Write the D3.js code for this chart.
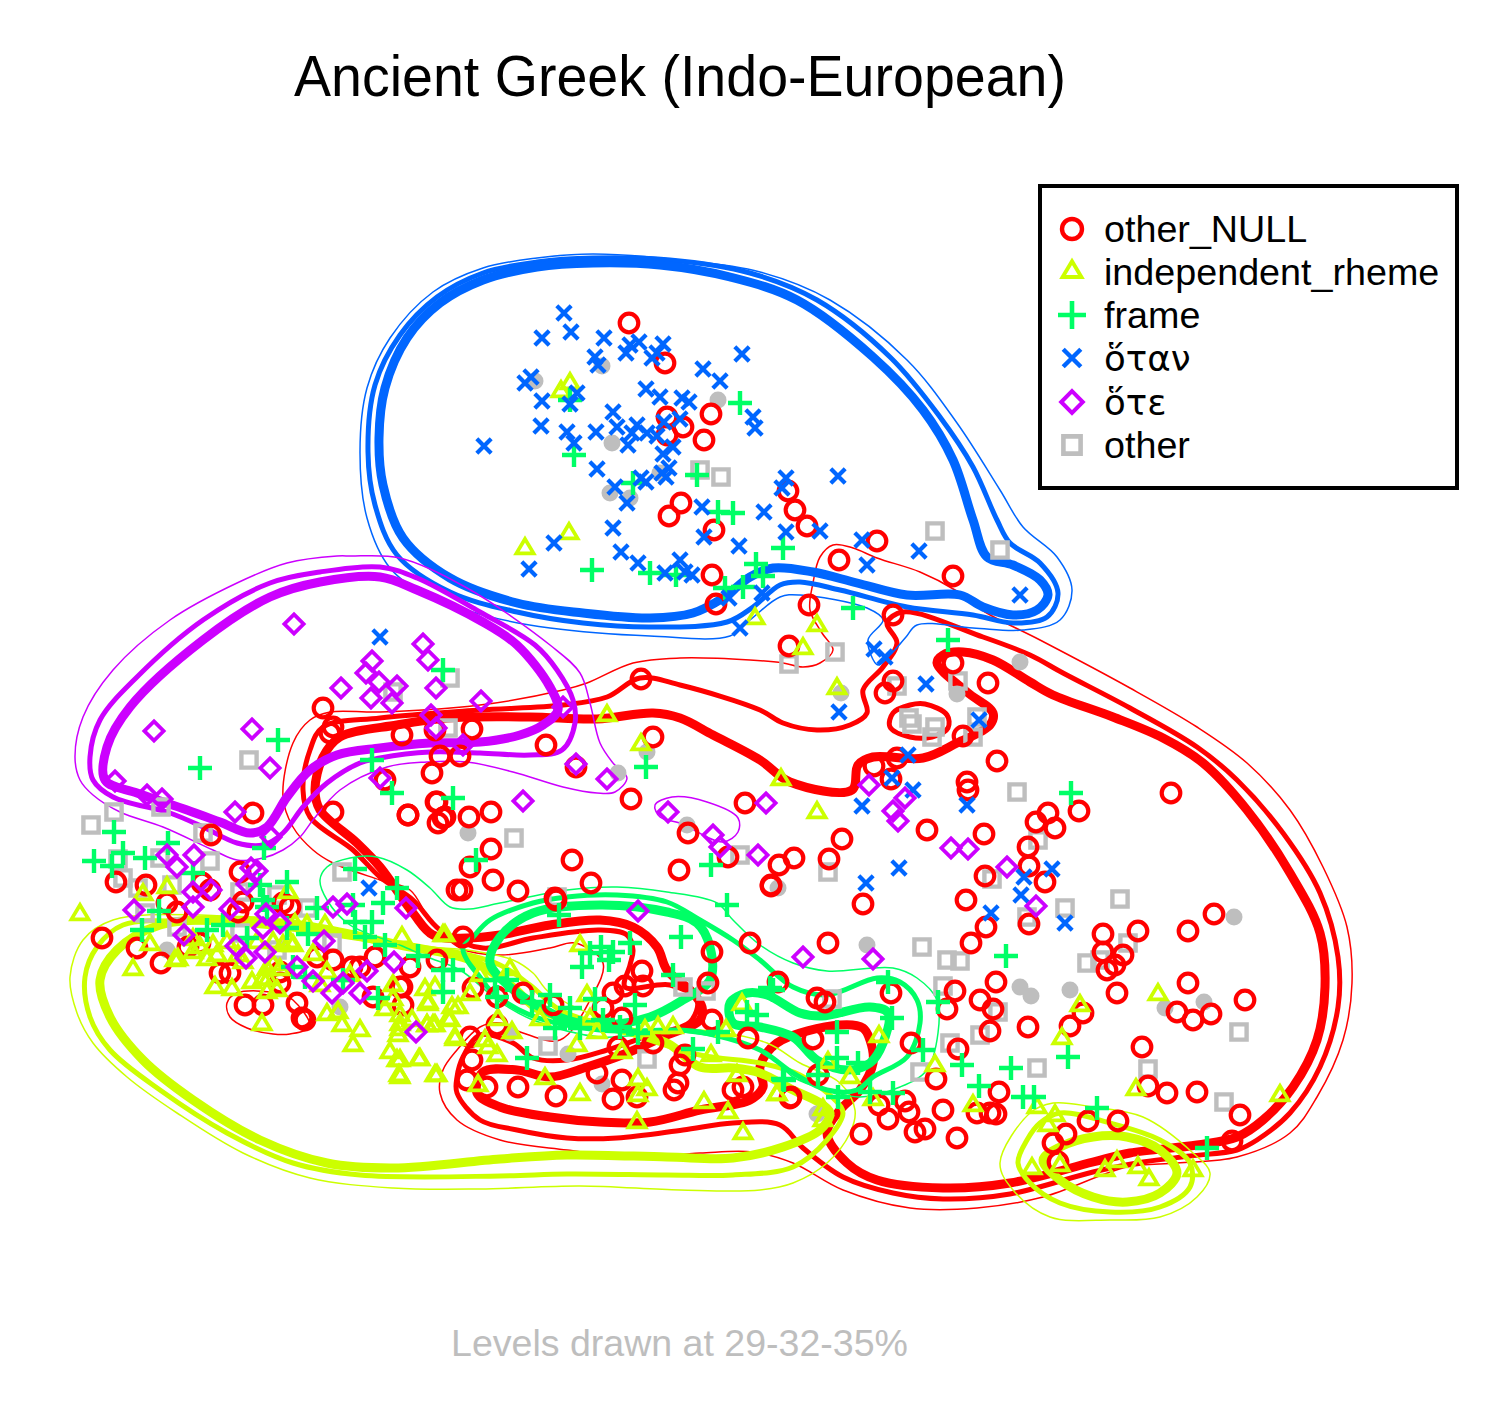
<!DOCTYPE html>
<html><head><meta charset="utf-8">
<script src="https://cdnjs.cloudflare.com/ajax/libs/d3/7.8.5/d3.min.js"></script>
<style>html,body{margin:0;padding:0;background:#fff}svg{display:block}</style>
</head><body><svg id="c" width="1504" height="1406"></svg>
<script>
const titleText="Ancient Greek (Indo-European)";
const footText="Levels drawn at 29-32-35%";
const legendNames=["other_NULL","independent_rheme","frame","ὅταν","ὅτε","other"];

const otherNull=[[62.9,32.3],[66.5,36.3],[71.1,41.4],[66.7,41.7],[68.3,42.7],[66.7,43.5],[70.4,44],[78.8,49.1],[79.5,51],[80.7,52.6],[68.1,50.3],[66.9,51.6],[71.4,53],[87.7,54.1],[83.9,56],[95.3,57.6],[71.2,57.5],[71.6,60.4],[80.9,60.5],[78.9,64.6],[89.3,61.5],[95.3,66.3],[98.8,68.3],[89.3,68.1],[88.5,69.3],[96.3,73.6],[99.7,76.1],[89.7,75.8],[87.4,76.6],[89.1,77.9],[96.7,78.2],[96.8,79],[107.9,81.1],[104.8,81.3],[103.6,82.2],[105.5,82.8],[92.7,83],[98.4,83.4],[102.8,84.7],[102.9,86.6],[98.5,87.6],[104.5,88.2],[96.6,90],[84.2,83.9],[82.9,85.9],[79.4,85.8],[77.9,86.5],[77.1,88.6],[86.3,90.4],[117.1,79.3],[74.5,80.3],[63.1,79.9],[65.3,73.7],[64.1,67.9],
[98.6,92.7],[97.1,94.3],[102.9,92.4],[82.8,94.3],[110.3,93.4],[113.8,93.1],[118.8,93.1],[121.4,91.4],[110.3,95.2],[112.3,95.5],[111.5,96.5],[110.7,97],[111.7,99.3],[118.8,98.3],[117.7,101.2],[119.3,102],[121.1,101.4],[124.5,100],[99.6,98.2],[95.5,99.1],[98,100],[99.3,100.9],[94.7,100.9],[89.1,99.3],[77.8,98.2],[81.7,99.8],[82.5,100.2],[99,103.1],[102.8,102.7],[108.3,101.3],[107,102.6],[114.2,104.7],[95.8,104.9],[91.1,104.3],[81.3,103.9],[93.6,107.9],[114.8,108.6],[116.7,109.3],[119.7,109.2],[124,111.5],[123.2,114.1],[111.8,112.1],[108.8,112.1],[106.6,113.4],[105.3,114.3],[105.8,116.2],[99.9,109.2],[99.6,111.4],[99,111.3],[97.7,111.3],[94.3,111],[95.7,113.8],[91.5,113.2],[92.5,112.9],[90.9,111.2],[90.5,110.1],[88.8,111.9],[87.9,110.5],[86.1,113.4],[79.1,109.7],[81.8,107.5],
[45.7,89],[46.2,89],[51.8,89.1],[49.3,88],[59.1,88.3],[55.6,90],[77.1,88.5],[46.3,93.7],[71.2,95.2],[75,94.3],[70.8,98.3],[64.2,97.1],[64.3,98.6],[62.5,98.6],[61.3,99.3],[60.3,100.8],[41,96.7],[43.7,96],[47.3,98.8],[49.7,99.7],[52.3,99.3],[55.3,100.5],[40.2,98.7],[40.3,100.5],[47,103.7],[49.7,102.5],[47.2,106],[46.7,108],[48.7,108.7],[51.8,108.7],[55.6,109.6],[59.7,107.3],[62.2,108],[61.3,109.9],[63.7,109.7],[61.8,104.7],[65.3,104.3],[62.2,101.8],[71.2,102],[74.8,103.8],[68.5,105.5],[68,106.5],[67.8,108.3],[67.4,109],[73.3,109],[74.3,108.7],[79,109.8],
[10.2,93.8],[11.6,88.2],[14.6,88.5],[21.1,83.5],[25.3,81.3],[40.8,81.5],[33.3,81.2],[43.7,80.2],[44.3,81.8],[43.8,82.3],[24,87.2],[16.7,90.3],[17.7,91.2],[13.7,94.8],[16.1,96.3],[21,89],[20.2,88.3],[29,90.7],[28.3,90.3],[24.3,90.2],[23.8,91.2],[20,94.3],[18.8,94.7],[23,97.3],[28,98.3],[24.5,100.5],[26.3,100.5],[29.7,100.3],[30.5,102],[30.2,101.8],[37.3,99.7],[40,98.7],[37.5,95.7],[36,96.7],[35.2,96.7],[33.3,96],[31.7,95.7],[28,97.2],[22,97.3],
[32.3,70.8],[33.3,72.7],[33,73.3],[40.2,73.5],[43.5,73],[47.2,72.9],[44,75.6],[46,75.6],[43.2,77.3],[38.5,78],[54.6,74.5],[57.6,76.7],[40.8,81.5],[43.6,80.2],[44.5,81.7],[46.9,81.7],[49.1,81.2],[49.1,84.9],[47,86.7],[57.2,86],[68.8,83.3],[72.8,85.7],[67.9,87],[55.5,89.8]];

const indepRheme=[[56.1,38.9],[57,38.1],[52.5,54.6],[56.9,53.1],[75.5,61.6],[81.7,62.3],[80.3,64.6],[83.7,68.6],[60.7,71.3],[64.1,74.2],[78.1,77.7],[81.7,81],
[87.9,103.4],[93.5,106.3],[85,107.5],[82.8,106],[87.3,109.7],[97.3,110.3],[77.7,109.2],[82.3,110.7],[82.3,111.8],[108,100.3],[106.2,103.6],[115.8,99.2],[113.6,108.7],[103.7,110.5],[105.5,111.3],[104.8,112.3],[103.2,116.6],[106,116.3],[110.5,116.8],[111.7,115.9],[113.8,116.5],[114.9,117.7],[119.3,116.8],[128,109.3],
[44.5,93.3],[58,94.3],[58.7,99.3],[54,101.7],[49.8,101.7],[51.2,103],[45.5,103.5],[48.5,103.8],[48.8,104.5],[49.7,105.3],[42,105.7],[40,105.8],[43.7,107.3],[40,107.5],[47.8,108.3],[54.5,107.6],[58,109.2],[63.8,107.7],[64.7,108.7],[63.8,109.3],[63.7,112],[70.4,110],[72.8,111],[74.3,113.1],[73.7,107.3],[71.1,105.3],[77.7,109.2],[74.2,100.2],[72.6,102.8],[67.3,102.5],[65.8,102.5],[64.5,102.8],[62.2,105],[57.7,104.3],[59,101.7],[59.7,103],[42.5,98.7],[43.5,98.5],[42.8,100.2],[47,99.2],[48,97.3],[51,96.7],[45.8,100.5],[45.2,100.5],[45,101.8],[42.7,102.3],[43.3,102.3],[41.2,101.8],[40,101.3],[40,102.7],
[8,91.2],[14.3,89.2],[16.7,88.5],[15,94.2],[13.3,96.7],[17.5,95.8],[28.8,89],[44.3,93.3],[40.2,93.5],[32.5,92.3],[30.7,92.3],[29.5,92.2],[29.3,94.3],[20,94.5],[21.3,94.3],[20.7,95.7],[22.7,94],[25.7,94],[27.3,94],[31.3,95.2],[21.5,98.5],[23.2,98.7],[25.2,98],[26.3,97.7],[27.7,98.8],[26.8,97.7],[28,96.7],[32,98.3],[32.7,97],[32.7,101.2],[34.2,102.3],[33.8,101],[36,102.8],[35.3,104.3],[35,97.3],[26.2,102.2],[38.5,100.7],[39.3,99.7],[39.3,98.3],[42.8,100],[40,102.2],[39.8,103.3],[42.7,102.3],[43.5,102.3],[39,105],[39.7,105.8],[41.9,105.7],[39.9,107.3],[43.5,107.3],[44.8,101.7],[45.5,103.7],[26.7,99],[23.8,95.3],[21.7,95.3],[19.3,95],[24.3,96],[27.3,96.2],[26.7,96.7],[29,94],[28.3,94.3],[19.3,93.7],[17.8,95.7]];

const frame=[[57,40],[74,40.3],[57.4,45.5],[63.3,48.3],[69.7,47.5],[71.8,51.2],[73.3,51.3],[78.3,54.8],[59.2,57],[65,57.3],[67.6,57.5],[75.6,56.4],[76.3,57.6],[74.3,58.7],[72.5,58.8],[85.3,60.8],[94.8,64],[107.1,79.3],[44.3,67],[27.8,74],[20,76.8],[37.2,76],[39.2,79.3],[45.3,79.8],[64.6,76.7],[71.1,86.5],[47.6,86],
[11.4,83.2],[16.8,84.3],[12.3,85.3],[9.4,86.1],[11.2,86.6],[14.5,85.8],[26.4,84.8],[19.3,87.3],[26,88.5],[28.7,88.2],[35.5,86.9],[39.7,88.8],[38.3,90.3],[31.7,90.8],[35.3,90.5],[35.5,92.2],[37.2,92.2],[36.5,93.7],[38.5,94.5],[41.8,95.6],[44.3,97],[45.3,97],[44.3,99.2],[37.8,99.8],[30.8,93.4],[28.7,92.8],[22.3,92.5],[20.7,93],[14.2,93],[15.9,91.1],[26.7,90.7],[26.3,90],[24.7,93.8],[29.3,96.7],[30.5,97.7],[34.3,98],
[55.9,91.5],[72.7,90.5],[68.1,93.7],[67.3,97.5],[58.2,96.7],[59,95.3],[60.1,94.7],[61.3,95.2],[63,94.3],[60.9,96],[49.5,98],[50.7,98],[49.7,99.7],[53.2,100.2],[55,99.5],[57,100.8],[59.5,99.9],[55.5,102.8],[52.7,105.8],[58,102.8],[60.3,102],[62,102.7],[63.5,100.5],[63.8,103.3],[71.8,103.2],[74.7,101.2],[75.7,101.5],[69.3,104.9],[78.3,107.9],[77.3,99],
[77,98.8],[88.8,98.2],[93.8,100.2],[89.2,101.8],[83.7,103.2],[83.7,105.8],[85.8,106.3],[81.8,107.5],[78.4,108],[83.8,109.7],[87,109.2],[89.3,109.3],[92.3,105],[96.2,106.5],[101.1,106.8],[106.8,105.7],[100.6,95.6],[97.9,108.6],[102.3,109.7],[103.4,109.7],[109.7,110.8],[120.7,114.8]];

const hote=[[56.4,31.3],[57.1,33.2],[54.2,33.8],[60.4,33.8],[59.5,35.7],[59.8,36.5],[63.9,34.2],[63,34.5],[62.6,35.3],[66.3,34.4],[65.7,35.3],[65.2,35.8],[70.3,36.9],[72,38.1],[74.2,35.4],[53.1,37.7],[52.5,38.3],[54.2,40.1],[57,40.4],[57.7,39.3],[54.1,42.6],[56.7,43.2],[57.4,44.3],[59.6,43.2],[61.3,41.2],[61.7,42.7],[63.7,42.5],[63.2,43.3],[62.8,44.5],[64.7,43.3],[65.7,43.6],[66.4,42.2],[68,41.9],[64.6,38.9],[66,39.7],[68.2,39.8],[68.9,40.2],[75.3,41.7],[75.5,42.8],[67.3,44.7],[66.3,45.4],[66.9,46.8],[66.6,47.7],[66.2,47.3],[59.7,46.9],[61.5,48.7],[64.1,47.8],[64.6,48.2],[62.7,50.3],[48.4,44.6],[70.2,50.7],[76.4,51.2],[83.8,47.6],[78.6,47.8],[78.2,48.8],[82,53.1],[78.6,53.2],[70.4,53.7],[73.9,54.6],[61.3,52.8],[55.4,54.3],[52.9,56.9],[62.1,55.2],[63.8,56.3],[68,56],[66.5,57.3],[68.5,57.2],[69.2,57.5],[76.2,59.3],[72.9,59.8],[74,62.8],[86.2,54],[86.7,56.5],[91.9,55.1],[102,59.5],
[87.4,64.9],[88.5,65.7],[92.6,68.4],[83.9,71.2],[97.9,72],[90.8,75.5],[89.2,77.8],[91.3,79],[86.2,80.6],[96.7,80.5],[89.9,86.8],[86.6,88.3],[102.4,87.7],[105.2,86.9],[102.1,89.5],[99.1,91.3],[106.5,92.3],[38,63.7],[36.9,88.8]];

const ote=[[29.4,62.4],[42.3,64.4],[42.8,66],[37.2,66.1],[36.6,67.3],[37.9,68.2],[39.7,68.6],[37.1,69.8],[39.2,70.3],[34.1,68.8],[43.6,68.8],[48.1,70.1],[43.1,71.5],[43.6,72.8],[15.4,73.1],[25.2,72.9],[27,76.8],[11.5,78.1],[14.7,79.5],[16.2,79.9],[23.5,81.2],[27.1,83.7],[57.6,76.4],[60.7,77.9],[38,77.8],[52.3,80.1],[66.8,81.2],[71.3,83.5],[72,84.7],[75.8,85.5],[76.6,80.3],[86.9,78.5],[90.5,79.8],[89.3,81.1],[89.8,82.1],[95.1,84.8],[96.8,84.9],[100.7,86.7],[103.6,90.6],[63.8,91.1],[80.3,95.7],[87.3,95.9],[56.3,70.7],[46.3,74.5],
[16.7,85.5],[17.7,86.7],[19.4,85.5],[25.1,86.8],[25.7,87.1],[24.7,88.4],[19.3,89.2],[21.1,89],[19.3,90.7],[23,90.9],[13.4,91],[26.6,91.4],[28,92.3],[26.3,92.8],[18.4,93.5],[23.6,94.6],[24.6,95.8],[26.5,95.2],[32.4,94.1],[29.7,96.7],[31.3,98.1],[33.2,99.3],[34.3,98.3],[36,99.3],[36.7,97.1],[39.4,96.2],[33.3,90.7],[34.7,90.4],[40.6,90.8],[41.6,103.2]];

const otherSquares=[[70,47],[72.1,47.7],[93.5,53.1],[100,55],[83.5,65.2],[78.9,66.4],[89.7,68.6],[95.8,68.1],[97.7,71.7],[97.3,73.7],[90.9,71.8],[91.2,72.4],[93.5,72.7],[93.2,73.7],[101.7,79.2],[82.8,87.2],[99.2,87.9],[103.8,84],[106.5,90.8],[102.7,91.7],[112,89.9],[44.8,72.8],[45,67.8],[39.3,69.2],[51.4,83.8],[34.2,87.2],[74,85.5],[55.7,89.7],[24.9,76],[11.4,81.2],[9.1,82.5],[16.1,80.7],[20.3,83.3],[21,86.1],[11.8,85.9],[12.3,87.8],[13.8,88.8],[16,85.8],[17.2,88.5],[24,89.2],[27.7,89.5],[30.8,90.8],[33.2,94.3],[14.5,91.3],[17.7,92.7],[24,93.3],[27.7,95],[54.8,104.6],[64.7,105.9],[68.3,98.7],[70.6,99.1],[92.2,94.7],[94.7,96],[96,96.1],[94.3,98.6],[83.2,99.9],[99.8,101.2],[98,103.5],[95,104.3],[92,107.2],[103.7,106.8],[114.8,106.9],[122.4,110.2],[123.9,103.2],[108.7,96.3],[110,96],[112.8,94.3]];

const otherDots=[[53.5,38.1],[60.2,36.6],[61.2,44.3],[71.8,40],[66,47.3],[61,49.3],[63,49.8],[102,66.2],[95.7,69.4],[84.1,69.3],[77.8,88.8],[61.8,77.3],[64.7,75.2],[46.8,83.3],[68.7,82.5],[86.7,94.5],[102,98.7],[103.1,99.6],[107,99],[120.4,100.2],[116.5,100.8],[123.4,91.7],[81.7,111.4],[56.8,105.4],[60.2,108.4],[16.7,95],[34,100.7],[51,103.3]];

const blueThin=[[59.3,25.4],[53.7,25.8],[48.3,26.8],[43.3,29.2],[39,33.8],[36.7,38.8],[36,45.2],[36.7,51.8],[39,56.8],[42.7,59.5],[48.3,61.5],[55,62.8],[65,63.6],[73,63.6],[75,62],[78,59.7],[80,59.5],[86.7,60.8],[88.3,62],[86.8,64],[87.8,66.5],[89,65.5],[90.6,63.7],[91.7,62.5],[97.3,62.8],[102.3,63],[106,62],[107.2,59],[105.7,55.7],[102.3,52.7],[100,49],[95.7,42.3],[90.7,36],[83,30],[76,27.2],[68,26]];
const blueMid=[[59.3,25.8],[53.7,26.2],[48.3,27.3],[43.7,29.7],[40,33.5],[37.5,38.5],[36.8,45.2],[37.5,50.5],[39.7,55.5],[45,59.2],[51.7,61.2],[58.3,62.3],[65,62.7],[72.7,62.2],[75.3,60.7],[78,58.5],[80,58.2],[84,59],[90.7,60.7],[97.3,61.5],[101.3,62.3],[104.7,61.7],[105.8,59.3],[104,56.3],[101,54.3],[99.7,52],[97.3,46.7],[94,41.7],[89,35.7],[81.7,30],[75,27.3],[67,26]];
const blueThick=[[59.3,26.3],[53.7,26.7],[48.3,28],[44,30.3],[40.7,33.8],[38.5,38.8],[37.9,43.8],[38.3,48.5],[40.3,53.8],[45,57.8],[51.7,60.3],[58.3,61.3],[65,61.8],[69.3,61.3],[72.3,59.8],[75,57.7],[77.3,56.8],[81.3,57.2],[85.7,58.3],[90.7,59.5],[96,59.5],[98.3,60.7],[101.3,61.5],[103.7,61],[104.8,59.5],[104,58],[101.3,56.5],[98.7,55.7],[97.3,52],[95.3,46],[92.3,41],[87.3,35.7],[79.7,30],[73,27.7],[66,26.5]];

const oteThin=[[35,55.6],[40,55.8],[46.7,58.8],[55,64.5],[58,67.3],[59,70.3],[60,74.3],[61.3,76.3],[62.7,77.8],[61.5,79.2],[59.7,79.3],[56.3,78.7],[51.3,77.2],[46.7,76.2],[42.7,76.2],[38.7,76.7],[34,79],[31.3,82],[30,83.7],[28.3,85],[26.3,85.8],[23.7,86],[21.3,85],[16.3,82.7],[12,81.2],[9.3,79.5],[8,78],[7.5,75.7],[8.3,71.7],[11.3,67],[17,62],[23.7,58.3],[28.7,56.3],[33.7,55.6]];
const oteMid=[[38,56.7],[41.7,57.8],[48,61.2],[53.5,64.5],[55.7,67],[57.3,70],[57.5,72.3],[56.2,75],[53,75.5],[48,75.3],[43,75.2],[38,75.8],[36,76.3],[32.7,78.3],[30.3,80.7],[28.3,83.3],[26.3,84.5],[23.7,84.3],[20.3,82.7],[17,81.3],[11.3,79.7],[9.3,78],[9,75.7],[10,72],[13.7,67.7],[20.3,62],[27,58.3],[32,57.2]];
const oteThick=[[38,57.7],[41.7,59],[48.3,62.2],[51.7,64.5],[55,68.7],[55.8,71],[54.3,72.5],[52,73.5],[48,74.2],[43,74.3],[38,74.8],[33.7,75.5],[31,77],[28.7,79.7],[26.7,82.7],[25,83.3],[22,82.2],[18.7,81],[13.7,79.3],[10.5,78],[10.7,74.7],[13,70.7],[20.3,64],[27,59.7],[32,58.2]];
const oteIsland=[[65.5,80.5],[67.2,79.7],[70.7,80.2],[73.8,81.8],[73.8,83.2],[72.3,84.2],[68,82.3],[66,81.7]];

const redThin=[[81,61],[81.3,58.3],[82,55.7],[83.3,54.5],[85.3,54.8],[87.7,55.8],[92,57.2],[95.5,59],[98.5,61.2],[104,64],[113,68.8],[119.7,72.7],[124.7,76.3],[129,81],[132.3,86.7],[134.7,92.7],[135.2,98.3],[134.3,104],[131.7,109.7],[129,113.3],[123.7,115.7],[117.7,116.3],[112.7,116.7],[104.3,119.7],[97.7,120.8],[91,120.8],[84.3,119],[79.3,116.3],[75.3,115.2],[70,115.3],[63.3,115.7],[56.7,115],[50,114],[45.7,112],[44,109.3],[44.3,107],[45.7,105],[48,102.7],[50,102.3],[52.3,103.3],[56,104],[59,100],[60.3,96.3],[57.5,94.3],[55,94.8],[50,95.5],[46,94.8],[43,92],[41,89],[38,88],[33.3,86.3],[31.3,85],[29.3,82.7],[28.3,79.7],[29.3,74.3],[31,72],[33,71.2],[38,71.2],[48,70.5],[56.3,69],[58.7,68.3],[63.3,66.3],[68,65.8],[75,66],[78.3,66.3],[80.3,66.7],[82,66.3],[83.3,65],[82.2,63.3]];
const redMid=[[90.3,61.2],[98.3,63.7],[103,65.5],[106.3,67.3],[113,70.8],[119.7,74.7],[123.7,78],[128.3,83.3],[132,89.3],[133.8,95.7],[133.8,100.7],[132,106.7],[129,111.3],[125.7,114],[123.7,115],[119,115.6],[114.3,116.2],[109.3,117.2],[101,119.4],[94.3,119.9],[89.3,119.3],[84.3,117.7],[80.3,114.8],[78,112.5],[73.3,112.3],[68.3,113],[61.7,113.8],[56.7,113.8],[51.7,113],[48,112],[45.7,109.3],[45.7,107.7],[46.3,105.7],[48,103.5],[51.3,104.3],[53.3,105.8],[56.7,106],[60.7,105],[65,103.5],[69,102.2],[69.7,100],[67,98.5],[62.5,98.7],[63,96.5],[63.3,95],[62.7,93.5],[60,93],[53.3,93.8],[48.3,94.8],[44,93],[41.3,90],[38,87.7],[35.3,85],[31,81.7],[30.3,79],[31,75],[32.3,72.7],[38,71.8],[48,71],[56.3,70.5],[60.7,69.7],[64,67.8],[68,68.5],[76,71],[78.3,72.3],[81.7,73],[85,72.5],[86.7,71.3],[86.3,69],[88.3,66.7],[89.7,64.3],[88.7,62.3]];
const redThick=[[34,73.7],[39.7,72.5],[44.7,71.8],[53,71.7],[59.7,71.9],[65.3,71.3],[68,71.8],[71.3,73.5],[76,76],[79,78.2],[85.2,79],[85.8,76.5],[87.3,75.7],[92.3,75.8],[95.7,74.3],[99,72.5],[99.3,71.3],[96.7,69.2],[93.7,66.3],[94.3,65.5],[96.3,65.2],[99.3,66],[103,68.2],[105.3,69.5],[111.3,71.7],[116.3,73.8],[120.3,76.3],[124.7,81],[129,87.3],[132,93.3],[132.5,98.7],[131.7,104],[129.3,108.7],[126.3,112],[123.7,113.7],[119.7,114.5],[113,115.3],[109.3,116.2],[101,118.3],[94.3,118.8],[87.7,118],[84.7,116.3],[82.7,113.3],[84,111],[86,109],[87.3,106.3],[87,104],[86.3,102.8],[84,102.5],[77.7,104.3],[76,106.7],[76.3,108.7],[75,110],[70,111],[65,112.2],[60,112.2],[55,111.7],[50,110.7],[47.7,109.3],[48.3,107.2],[51.7,107],[55,107.7],[58.7,106.7],[62.7,105.3],[66.7,103.5],[70,102],[70.2,100.7],[69.3,99.3],[66.7,97],[65.7,94.7],[63.3,92.7],[60,92],[55,92.5],[50,93.5],[46.7,93.8],[43.3,93.5],[41.3,91.3],[38,86.7],[35.7,84.3],[32,81],[31.5,79],[32.3,75.7]];
const redIsland=[[89.3,71.3],[91,70.5],[92.5,70.4],[94.7,71.5],[94.8,72.8],[93.2,73.7],[91,73.7],[89,72.7]];
const redBlob=[[22.7,100.3],[23,101.7],[24.7,102.8],[27.3,103.4],[29,103.4],[31,102.7],[29.3,100],[27.7,99.3],[23.7,99.3]];

const limeThin=[[11.3,92],[8.3,94],[7,97.7],[7.7,101.3],[9.3,104.3],[12.7,107.7],[17.7,111.3],[24.3,115.3],[31,117.8],[39.3,118.8],[48,118.9],[58,118.6],[68,119],[76,119],[79.3,118.3],[82.7,116.3],[85,113.3],[85.5,111],[84,108.3],[80,106.3],[76.7,104.3],[70,103],[64,103],[55,99.3],[53.3,97.3],[51.3,96],[46.7,95],[40,94.5],[30,92.5],[20,91.5]];
const limeMid=[[12.3,92.5],[9.7,94.7],[8.5,97.7],[9,101.7],[11,105],[16,109],[22.7,113.3],[29.3,116.3],[36,117.5],[50,117.6],[56.7,117.4],[66.7,117.5],[73.3,117.5],[79.3,116.7],[82.7,114],[84.3,111.3],[83.5,110],[80,107.5],[76,106.3],[70,105.5],[62,103],[56,101],[53,98.5],[50,96.5],[46,95.3],[40,94.5],[30,93],[20,92.2]];
const limeThick=[[16,92.5],[11.7,95],[10,98],[11,101.7],[14.3,106],[19.3,110],[26,114],[32.7,116.3],[39.3,116.8],[50,115.9],[56.7,115.5],[66.7,115.7],[73.3,115.8],[78.3,114.7],[82,113],[83,111.3],[82,110.3],[79.3,109],[76,107.3],[73.3,106.8],[70,106.7],[66.7,104.3],[60,102.5],[54,101],[51,98.5],[47,96],[40,94.5],[30,92.5],[22,92]];
const limeEggThin=[[103,111.3],[100,116.3],[101.3,119],[105,121.7],[111,122],[116,121.7],[119.7,119.7],[121,117.3],[119.3,115.3],[114.3,111.7],[109.3,110.7],[105.3,110.3]];
const limeEggMid=[[102.7,114],[101.8,116.3],[103,118.3],[106,120.3],[111,121.2],[116,120.7],[119,118.7],[119,116.3],[116,114],[111,112.3],[106,111.3],[104,112.3]];
const limeEggThick=[[104.3,116],[106,118],[109.3,119.7],[112.7,120.2],[116,119.3],[117.7,117.3],[116,115],[112.7,113.7],[109.3,113.7],[106,114.7]];

const greenThin=[[32,88],[32.7,86.7],[35,85.8],[37.7,85.7],[40.7,87],[43,88.8],[45,90.7],[47,90.9],[50,90.3],[56.7,89],[61.7,88.7],[66.7,89.2],[71.7,90.3],[73.3,92],[76,94.5],[79.3,96.3],[82.7,97.1],[89.3,96.8],[91.7,97.8],[93.7,100],[93.8,103.3],[92.7,107],[90,108.7],[86,109.7],[82.7,109],[79.3,107.7],[76.7,105.3],[68.3,103.2],[60,103.7],[53.3,102],[50,100.2],[46,97],[42.7,95.7],[40,94.5],[35,92.5],[32.7,90]];
const greenMid=[[46.3,94.8],[47.3,93.7],[49,92],[53.3,90.3],[56.7,89.7],[61.7,89.5],[66.7,90.2],[70,92],[73.3,94],[76,96],[79.3,98.7],[82.7,99.5],[87.7,97.8],[90,98.2],[91.7,100],[92,102.3],[90.7,105.7],[87.3,107.7],[85.7,109],[82.7,109],[79.3,107.3],[76,105],[70,103.2],[68,103],[60,103],[53,101.5],[49,99],[48,97.7],[46.7,96]];
const greenThickA=[[49,96.3],[50,93.7],[53.3,91.3],[60,90.5],[66.7,91.2],[69.7,92.3],[71,94.7],[71,98],[68.3,100],[65,101.7],[60,102.5],[56.7,102],[53.3,100.3],[51,98.7]];
const greenThickB=[[73,100.3],[74.7,99.3],[76.7,99.5],[80,101.3],[82.2,101.6],[87,100.7],[88.8,101.3],[88.3,104.3],[87,106.3],[84.7,107],[81.7,106],[79.3,103.7],[76,102.7],[73.3,102.3]];

const legendRows=[22.9,27.2,31.5,35.8,40.2,44.5];

const W=1504,H=1406;
const x=d3.scaleLinear().domain([0,150.4]).range([0,W]);
const y=d3.scaleLinear().domain([0,140.6]).range([0,H]);
const RED="#FF0000",LIME="#CCFF00",GREEN="#00FF66",BLUE="#0066FF",PURPLE="#CC00FF",GREY="#BEBEBE";
const svg=d3.select("#c");
const FONT='"Liberation Sans",Arial,Helvetica,sans-serif';

const loop=d3.line().x(d=>x(d[0])).y(d=>y(d[1])).curve(d3.curveCatmullRomClosed.alpha(0.5));
const T=1.5,M=5,K=9;
const groups=[
 [RED,[[redThin,T],[redMid,M],[redThick,K],[redIsland,M],[redBlob,T]]],
 [LIME,[[limeThin,T],[limeMid,M],[limeThick,K],[limeEggThin,T],[limeEggMid,M],[limeEggThick,K]]],
 [GREEN,[[greenThin,T],[greenMid,M],[greenThickA,K],[greenThickB,K]]],
 [BLUE,[[blueThin,T],[blueMid,M],[blueThick,K]]],
 [PURPLE,[[oteThin,T],[oteMid,M],[oteThick,K],[oteIsland,T]]]
];
const cg=svg.append("g").attr("fill","none").attr("stroke-linejoin","round");
groups.forEach(([col,list])=>list.forEach(([pts,w])=>{
  cg.append("path").attr("d",loop(pts)).attr("stroke",col).attr("stroke-width",w);
}));

const sym={
 circle:{draw(c,s){const r=Math.sqrt(s);c.moveTo(r,0);c.arc(0,0,r,0,2*Math.PI);}},
 tri:{draw(c,s){const r=Math.sqrt(s);c.moveTo(0,-0.82*r);c.lineTo(r,0.85*r);c.lineTo(-r,0.85*r);c.closePath();}},
 plus:{draw(c,s){const r=Math.sqrt(s);c.moveTo(-r,0);c.lineTo(r,0);c.moveTo(0,-r);c.lineTo(0,r);}},
 cross:{draw(c,s){const r=Math.sqrt(s);c.moveTo(-r,-r);c.lineTo(r,r);c.moveTo(r,-r);c.lineTo(-r,r);}},
 diamond:{draw(c,s){const r=Math.sqrt(s);c.moveTo(0,-r);c.lineTo(r,0);c.lineTo(0,r);c.lineTo(-r,0);c.closePath();}},
 square:{draw(c,s){const r=Math.sqrt(s);c.moveTo(-r,-r);c.lineTo(r,-r);c.lineTo(r,r);c.lineTo(-r,r);c.closePath();}}
};
const series=[
 {data:otherSquares,t:sym.square,c:GREY,r:7.6,lr:8.6,dy:0,w:4.4},
 {data:otherNull,t:sym.circle,c:RED,r:9.3,lr:10,dy:0,w:4.2},
 {data:indepRheme,t:sym.tri,c:LIME,r:8.6,lr:9.4,dy:-3,w:3.7},
 {data:frame,t:sym.plus,c:GREEN,r:12,lr:14,dy:0,w:4.4},
 {data:hote,t:sym.cross,c:BLUE,r:7.2,lr:8.8,dy:0,w:4.2},
 {data:ote,t:sym.diamond,c:PURPLE,r:9.6,lr:10.8,dy:0,w:3.8}
];
svg.append("g").selectAll("circle").data(otherDots).join("circle")
  .attr("cx",d=>x(d[0])).attr("cy",d=>y(d[1])).attr("r",8.5).attr("fill",GREY);
series.forEach(s=>{
  const p=d3.symbol().type(s.t).size(s.r*s.r)();
  svg.append("g").selectAll("path").data(s.data).join("path")
    .attr("d",p).attr("transform",d=>`translate(${x(d[0])},${y(d[1])})`)
    .attr("fill","none").attr("stroke",s.c).attr("stroke-width",s.w)
    .attr("stroke-linejoin","miter");
});

svg.append("text").text(titleText).attr("x",294).attr("y",y(9.6))
  .attr("textLength",772).attr("lengthAdjust","spacingAndGlyphs")
  .attr("font-family",FONT).attr("font-size",57.5).attr("fill","#000");
svg.append("text").text(footText).attr("x",451).attr("y",y(135.6))
  .attr("textLength",457).attr("lengthAdjust","spacingAndGlyphs")
  .attr("font-family",FONT).attr("font-size",37.5).attr("fill",GREY);

svg.append("rect").attr("x",x(104)).attr("y",y(18.6)).attr("width",x(41.7)).attr("height",y(30.2))
  .attr("fill","#fff").attr("stroke","#000").attr("stroke-width",4);
const legendOrder=[1,2,3,4,5,0];
const greekRows=new Set([3,4]);
legendOrder.forEach((si,i)=>{
  const s=series[si];
  svg.append("path").attr("d",d3.symbol().type(s.t).size(s.lr*s.lr)())
    .attr("transform",`translate(${x(107.2)},${y(legendRows[i])+s.dy})`)
    .attr("fill","none").attr("stroke",s.c).attr("stroke-width",s.w+0.2);
  svg.append("text").text(legendNames[i]).attr("x",x(110.4)).attr("y",y(legendRows[i])+13)
    .attr("font-family",greekRows.has(i)?'"DejaVu Sans"':FONT)
    .attr("font-size",greekRows.has(i)?35.6:37.7).attr("fill","#000");
});
</script></body></html>
